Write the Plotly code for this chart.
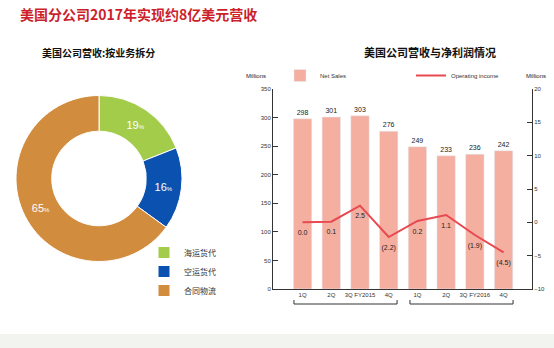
import plotly.graph_objects as go

# ---- data ----
pie_labels = ["海运货代", "空运货代", "合同物流"]
pie_values = [19, 16, 65]
pie_colors = ["#a3cc4b", "#0b52b0", "#d28c3e"]

quarters = ["1Q", "2Q", "3Q FY2015", "4Q", "1Q", "2Q", "3Q FY2016", "4Q"]
net_sales = [298, 301, 303, 276, 249, 233, 236, 242]
op_income = [0.0, 0.1, 2.5, -2.2, 0.2, 1.1, -1.9, -4.5]
op_labels = ["0.0", "0.1", "2.5", "(2.2)", "0.2", "1.1", "(1.9)", "(4.5)"]

xpos = list(range(len(quarters)))
W, H = 554, 348

def py(p):  # pixel y -> paper y
    return (H - p) / H

def px(p):
    return p / W

fig = go.Figure()

fig.add_trace(go.Pie(
    labels=pie_labels, values=pie_values, sort=False, direction="clockwise",
    hole=0.57, marker=dict(colors=pie_colors, line=dict(color="white", width=1)),
    texttemplate="%{value}<span style='font-size:6px'>%</span>",
    textposition="inside", insidetextfont=dict(color="white", size=11, family="Arial"),
    domain=dict(x=[px(16), px(182)], y=[py(262), py(95)]),
    legend="legend", hoverinfo="skip",
))

fig.add_trace(go.Bar(
    x=xpos, y=net_sales, name="Net Sales", marker_color="#f4afa1", width=0.64,
    text=[str(v) for v in net_sales], textposition="outside",
    textfont=dict(size=7, color="#222", family="Arial"), cliponaxis=False,
    legend="legend2", yaxis="y",
))

fig.add_trace(go.Scatter(
    x=xpos, y=op_income, name="Operating income", mode="lines+markers+text",
    line=dict(color="#e8484f", width=2), marker=dict(size=10, color="rgba(0,0,0,0)"),
    text=op_labels,
    textposition="bottom center", textfont=dict(size=7, color="#222", family="Arial"),
    cliponaxis=False, legend="legend2", yaxis="y2",
))

axis_font = dict(size=6, color="#333", family="Arial")
fig.update_layout(
    width=W, height=H, margin=dict(l=0, r=0, t=0, b=0, autoexpand=False),
    paper_bgcolor="white", plot_bgcolor="rgba(0,0,0,0)",
    showlegend=True,
    xaxis=dict(domain=[px(273), px(532)], range=[-1.03, 7.99], tickvals=xpos,
               ticktext=quarters, tickfont=axis_font, showline=True,
               linecolor="#333", linewidth=1, showgrid=False, zeroline=False,
               ticks=""),
    yaxis=dict(domain=[py(289), py(89)], range=[0, 350], dtick=50,
               ticks="inside", ticklen=5, tickcolor="#333", showline=True,
               linecolor="#333", linewidth=1, showgrid=False, zeroline=False,
               tickfont=axis_font),
    yaxis2=dict(overlaying="y", side="right", range=[-10, 20], dtick=5,
                ticks="inside", ticklen=5, tickcolor="#333", showline=True,
                linecolor="#333", linewidth=1, showgrid=False, zeroline=False,
                tickfont=axis_font, anchor="x"),
    legend=dict(x=px(144), y=py(238), xanchor="left", yanchor="top",
                font=dict(size=8, color="#333", family="Noto Sans CJK SC"),
                itemwidth=30, tracegroupgap=0, bgcolor="rgba(0,0,0,0)"),
    legend2=dict(orientation="h", x=px(280), y=py(61), xanchor="left", yanchor="top",
                 font=dict(size=6, color="#333", family="Arial"),
                 entrywidth=86, entrywidthmode="pixels", itemwidth=30,
                 bgcolor="rgba(0,0,0,0)"),
    font=dict(family="Arial"),
)

annotations = [
    dict(text="<b>美国分公司2017年实现约8亿美元营收</b>", x=px(18), y=py(14),
         xanchor="left", yanchor="middle", showarrow=False,
         font=dict(size=14, color="#cc1f2b", family="Noto Sans CJK SC")),
    dict(text="<b>美国公司营收:按业务拆分</b>", x=px(40), y=py(52),
         xanchor="left", yanchor="middle", showarrow=False,
         font=dict(size=10, color="#111", family="Noto Sans CJK SC")),
    dict(text="<b>美国公司营收与净利润情况</b>", x=px(430), y=py(52),
         xanchor="center", yanchor="middle", showarrow=False,
         font=dict(size=11, color="#111", family="Noto Sans CJK SC")),
    dict(text="Millions", x=px(256), y=py(76), xanchor="center", yanchor="middle",
         showarrow=False, font=dict(size=6, color="#222", family="Arial")),
    dict(text="Millions", x=px(536), y=py(76), xanchor="center", yanchor="middle",
         showarrow=False, font=dict(size=6, color="#222", family="Arial")),
]
for a in annotations:
    a["xref"] = "paper"
    a["yref"] = "paper"
fig.update_layout(annotations=annotations)

# year brackets under the quarter labels
shapes = []
for x0, x1 in [(-0.3, 3.29), (3.74, 7.33)]:
    shapes.append(dict(
        type="path", xref="x", yref="paper",
        path=f"M {x0} {py(300)} L {x0} {py(304)} L {x1} {py(304)} L {x1} {py(300)}",
        line=dict(color="#333", width=1),
    ))
# faint footer band
shapes.append(dict(type="rect", xref="paper", yref="paper", x0=0, x1=1,
                   y0=0, y1=py(334), fillcolor="#f1f4ef", line=dict(width=0),
                   layer="below"))
fig.update_layout(shapes=shapes)

fig.write_html("out.html")
